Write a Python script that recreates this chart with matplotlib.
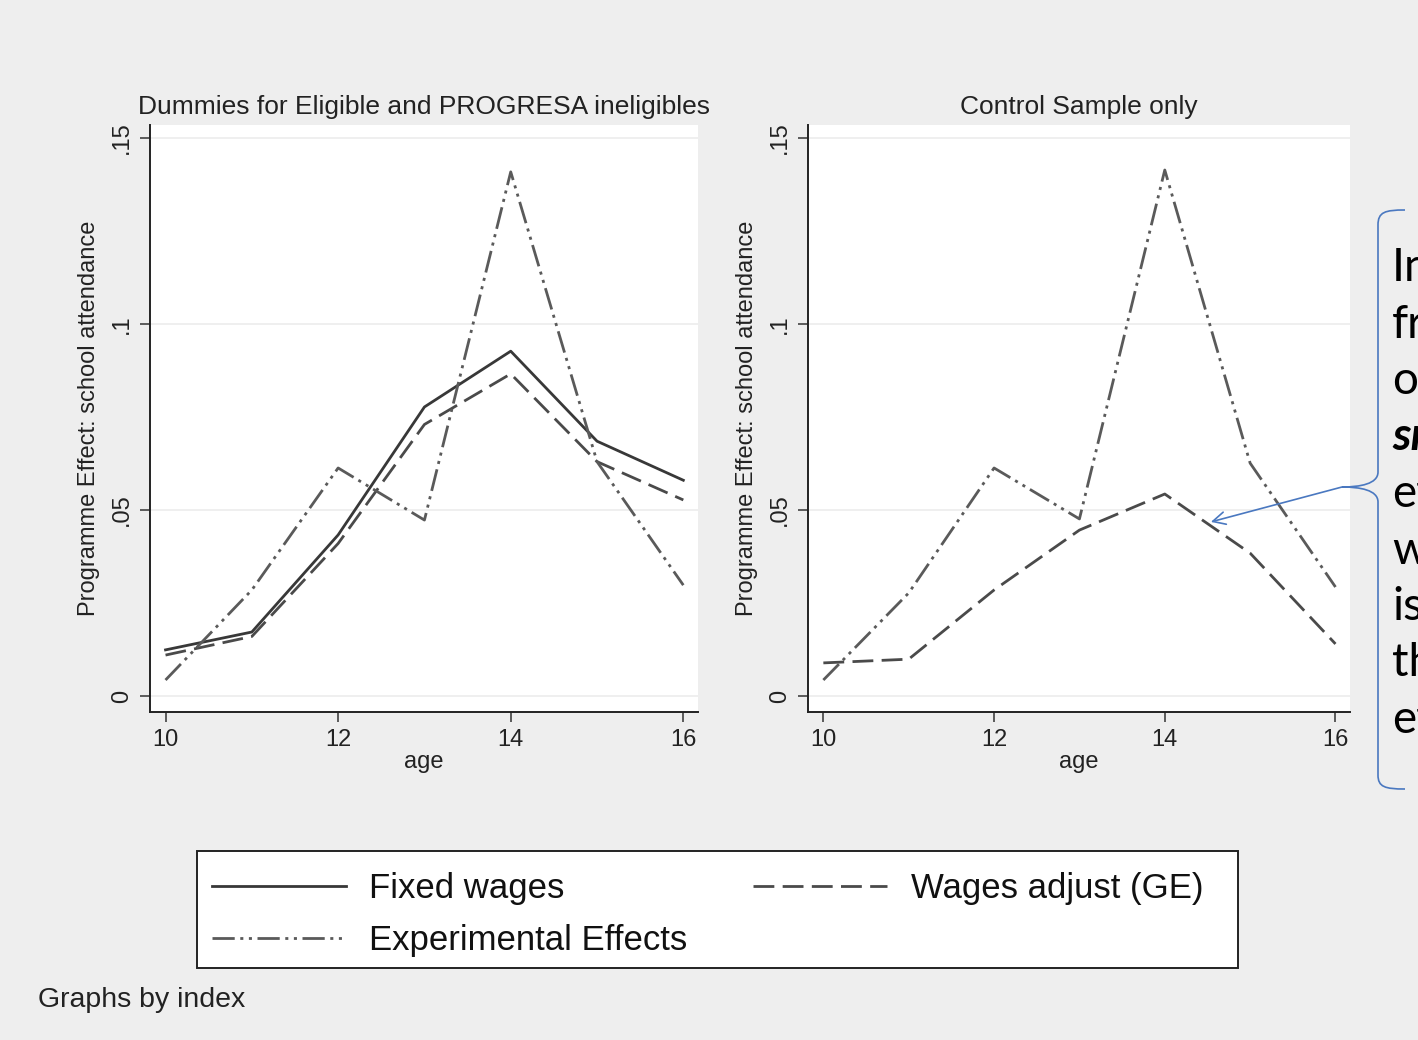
import matplotlib
matplotlib.use("Agg")
import matplotlib.pyplot as plt
from matplotlib.path import Path
from matplotlib.patches import PathPatch, Rectangle
import matplotlib.transforms as mtransforms

plt.rcParams["font.family"] = ["Liberation Sans", "DejaVu Sans"]

# data
ages = [10, 11, 12, 13, 14, 15, 16]

left_fixed = [0.0124, 0.0172, 0.0433, 0.0777, 0.0927, 0.0685, 0.0580]
left_ge = [0.0110, 0.0160, 0.0410, 0.0730, 0.0866, 0.0630, 0.0527]
left_exp = [0.0043, 0.0285, 0.0613, 0.0473, 0.1409, 0.0630, 0.0298]

right_ge = [0.0089, 0.0099, 0.0285, 0.0446, 0.0543, 0.0384, 0.0140]
right_exp = [0.0043, 0.0277, 0.0613, 0.0476, 0.1414, 0.0626, 0.0293]

yticks = [0, 0.05, 0.10, 0.15]
ytick_labels = ["0", ".05", ".1", ".15"]
xticks = [10, 12, 14, 16]

titles = ["Dummies for Eligible and PROGRESA ineligibles", "Control Sample only"]
series_names = ["Fixed wages", "Wages adjust (GE)", "Experimental Effects"]

# note text on the right, cut off by the edge of the slide
note_bits = ["In", "fr", "o", "sm", "ef", "w", "is", "th", "ef"]

W, H = 1418, 1040
BG = "#eeeeee"
BLUE = "#4a78c0"

solid_style = dict(color="#383838", lw=2.0, linestyle="-")
dash_style = dict(color="#4a4a4a", lw=2.0, linestyle=(0, (7.5, 3)))
ddot_style = dict(color="#5a5a5a", lw=2.0, linestyle=(0, (8, 2, 1.1, 2, 1.1, 2)))

fig = plt.figure(figsize=(W / 100, H / 100), dpi=100, facecolor=BG)

# pixel -> figure fraction
px = mtransforms.Affine2D().scale(1 / W, -1 / H).translate(0, 1) + fig.transFigure


def style_axes(ax, title):
    ax.set_facecolor("white")
    ax.set_xlim(9.82, 16.17)
    ax.set_ylim(-0.0043, 0.1535)
    ax.set_xticks(xticks)
    ax.set_yticks(yticks)
    ax.set_yticklabels(ytick_labels, rotation=90, va="center")
    ax.tick_params(axis="both", length=7, width=1.1, color="#333333",
                   labelsize=17, labelcolor="#222222", pad=5)
    ax.grid(axis="y", color="#ececec", lw=1.2)
    ax.set_axisbelow(True)
    for side in ["top", "right"]:
        ax.spines[side].set_visible(False)
    for side in ["left", "bottom"]:
        ax.spines[side].set_color("#222222")
        ax.spines[side].set_linewidth(1.4)
    ax.set_xlabel("age", fontsize=17, color="#222222", labelpad=0)
    ax.set_ylabel("Programme Effect: school attendance", fontsize=17,
                  color="#222222", labelpad=8)
    ax.set_title(title, fontsize=19, color="#222222", pad=8)


ax1 = fig.add_axes([150 / W, 1 - 712 / H, 548 / W, 587 / H])
style_axes(ax1, titles[0])
l_fixed, = ax1.plot(ages, left_fixed, **solid_style)
l_ge, = ax1.plot(ages, left_ge, **dash_style)
l_exp, = ax1.plot(ages, left_exp, **ddot_style)

ax2 = fig.add_axes([808 / W, 1 - 712 / H, 542 / W, 587 / H])
style_axes(ax2, titles[1])
ax2.plot(ages, right_ge, **dash_style)
ax2.plot(ages, right_exp, **ddot_style)

# legend box below both panels
fig.patches.append(Rectangle((197, 851), 1041, 117, transform=px,
                             facecolor="white", edgecolor="#222222", lw=1.4))
leg = fig.legend([l_fixed, l_exp, l_ge],
                 [series_names[0], series_names[2], series_names[1]],
                 loc="upper left", bbox_to_anchor=(191 / W, 1 - 851 / H),
                 ncol=2, fontsize=25, frameon=False,
                 handlelength=3.85, handletextpad=0.68, columnspacing=1.9,
                 labelspacing=0.56, borderpad=0.6, borderaxespad=0)
for t in leg.get_texts():
    t.set_color("#111111")

fig.text(38 / W, 1 - 1000 / H, "Graphs by index", fontsize=20.5,
         color="#222222", va="center", ha="left")

# brace callout on the right edge
verts = [(1405, 210), (1385, 210), (1378, 212), (1378, 225),
         (1378, 472),
         (1378, 484), (1360, 487), (1342, 487),
         (1360, 487), (1378, 490), (1378, 502),
         (1378, 775),
         (1378, 787), (1385, 789), (1405, 789)]
codes = [Path.MOVETO, Path.CURVE4, Path.CURVE4, Path.CURVE4,
         Path.LINETO,
         Path.CURVE4, Path.CURVE4, Path.CURVE4,
         Path.CURVE4, Path.CURVE4, Path.CURVE4,
         Path.LINETO,
         Path.CURVE4, Path.CURVE4, Path.CURVE4]
fig.patches.append(PathPatch(Path(verts, codes), transform=px, fill=False,
                             edgecolor=BLUE, lw=1.2))

ax2.annotate("", xy=(14.54, 0.0468), xycoords="data",
             xytext=(1342 / W, 1 - 487 / H), textcoords="figure fraction",
             arrowprops=dict(arrowstyle="->,head_length=0.9,head_width=0.45",
                             color=BLUE, lw=1.2, shrinkA=0, shrinkB=0),
             annotation_clip=False)

# clipped note text
note_ax = fig.add_axes([1372 / W, 0, 1 - 1372 / W, 1])
note_ax.set_axis_off()
for i, bit in enumerate(note_bits):
    yc = 268 + 56.5 * i
    kw = dict(fontsize=33, family=["Lato", "DejaVu Sans"], color="black",
              va="center", ha="left", transform=px, clip_on=True)
    if bit == "sm":
        kw.update(weight="bold", style="italic")
    note_ax.text(1392, yc, bit, **kw)

fig.savefig("out.png", dpi=100, facecolor=BG)
